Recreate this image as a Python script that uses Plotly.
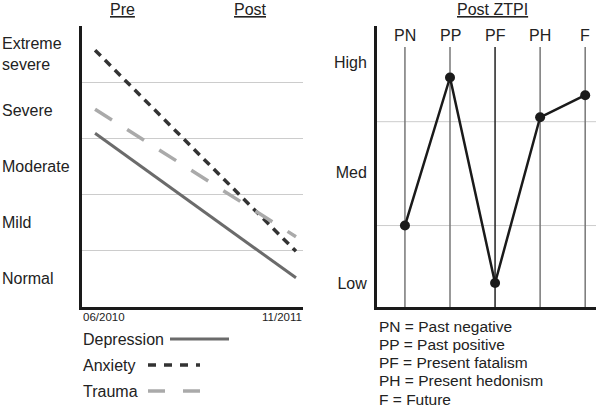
import plotly.graph_objects as go

# ---------- data ----------
time_labels = ["Pre", "Post"]
time_x = [0, 1]
date_labels = ["06/2010", "11/2011"]
severity_levels = ["Normal", "Mild", "Moderate", "Severe", "Extreme<br>severe"]
depression = [3.09, 0.52]
anxiety = [4.57, 0.99]
trauma = [3.52, 1.25]

ztpi_cats = ["PN", "PP", "PF", "PH", "F"]
ztpi_vals = [1.52, 2.86, 1.0, 2.50, 2.70]
ztpi_levels = ["Low", "Med", "High"]
ztpi_grid = [1.52, 2.46]
ztpi_defs = ["PN = Past negative", "PP = Past positive", "PF = Present fatalism",
             "PH = Present hedonism", "F = Future"]

W, H = 596, 408
FONT = "Liberation Sans, Arial, Helvetica, sans-serif"
TXT = "#222222"

def px(x):
    return x / W

def py(y):
    return 1 - y / H

fig = go.Figure()

# left panel lines
fig.add_trace(go.Scatter(x=time_x, y=depression, mode="lines",
                         line=dict(color="#6b6b6b", width=3), xaxis="x", yaxis="y",
                         showlegend=False, hoverinfo="skip"))
fig.add_trace(go.Scatter(x=time_x, y=anxiety, mode="lines",
                         line=dict(color="#333333", width=3.5, dash="8px,6px"), xaxis="x", yaxis="y",
                         showlegend=False, hoverinfo="skip"))
fig.add_trace(go.Scatter(x=time_x, y=trauma, mode="lines",
                         line=dict(color="#aaaaaa", width=3.5, dash="20px,18px"), xaxis="x", yaxis="y",
                         showlegend=False, hoverinfo="skip"))

# right panel
fig.add_trace(go.Scatter(x=ztpi_cats, y=ztpi_vals, mode="lines+markers",
                         line=dict(color="#1a1a1a", width=2.5),
                         marker=dict(color="#1a1a1a", size=10),
                         xaxis="x2", yaxis="y2", showlegend=False, hoverinfo="skip"))

ydom = [py(307), py(26)]
fig.update_layout(
    width=W, height=H, margin=dict(l=0, r=0, t=0, b=0),
    paper_bgcolor="white", plot_bgcolor="white",
    font=dict(family=FONT, color=TXT, size=16),
    xaxis=dict(domain=[px(82), px(303)], range=[-0.065, 1.035], showgrid=False,
               showticklabels=False, zeroline=False, showline=True,
               linecolor="#1a1a1a", linewidth=3, ticks=""),
    yaxis=dict(domain=ydom, range=[0, 5], tickvals=[1, 2, 3, 4, 5],
               showticklabels=False, showgrid=True, gridcolor="#cccccc", gridwidth=1,
               zeroline=False, showline=True, linecolor="#1a1a1a", linewidth=3, ticks=""),
    xaxis2=dict(domain=[px(377), 1.0], range=[-0.62, 4.24], type="category",
                categoryarray=ztpi_cats, showgrid=False, showticklabels=False,
                zeroline=False, showline=True, linecolor="#1a1a1a", linewidth=3, ticks=""),
    yaxis2=dict(domain=ydom, range=[0.783, 3.326], tickvals=[1, 2, 3], ticktext=ztpi_levels,
                showgrid=False, zeroline=False, showline=True, linecolor="#1a1a1a",
                linewidth=3, ticks="", ticklabelstandoff=4,
                tickfont=dict(size=16, color=TXT), anchor="x2"),
)
fig.update_layout(xaxis2_anchor="y2")

shapes = []
# right panel horizontal gridlines
for gv in ztpi_grid:
    shapes.append(dict(type="line", xref="paper", yref="y2", x0=px(377), x1=1.0,
                       y0=gv, y1=gv, line=dict(color="#cccccc", width=1), layer="below"))
# right panel vertical lines
for i, c in enumerate(ztpi_cats):
    col = "#222222" if c == "PF" else "#777777"
    shapes.append(dict(type="line", xref="x2", yref="paper", x0=c, x1=c,
                       y0=py(307), y1=py(47), line=dict(color=col, width=1.5), layer="below"))
# legend samples
shapes.append(dict(type="line", xref="paper", yref="paper", x0=px(170), x1=px(229),
                   y0=py(339), y1=py(339), line=dict(color="#6b6b6b", width=3)))
shapes.append(dict(type="line", xref="paper", yref="paper", x0=px(148), x1=px(200),
                   y0=py(365), y1=py(365), line=dict(color="#333333", width=3.5, dash="8px,8px")))
shapes.append(dict(type="line", xref="paper", yref="paper", x0=px(148), x1=px(200),
                   y0=py(391), y1=py(391), line=dict(color="#aaaaaa", width=3.5, dash="17px,18px")))
fig.update_layout(shapes=shapes)

ann = []
# top labels left
for lab, xc in zip(time_labels, [122, 251]):
    ann.append(dict(text=f"<u>{lab}</u>", xref="paper", yref="paper", x=px(xc), y=py(9),
                    showarrow=False, xanchor="center", yanchor="middle", font=dict(size=16)))
ann.append(dict(text="<u>Post ZTPI</u>", xref="paper", yref="paper", x=px(492), y=py(9),
                showarrow=False, xanchor="center", yanchor="middle", font=dict(size=16)))
# severity labels
for i, lab in enumerate(severity_levels):
    ann.append(dict(text=lab, xref="paper", yref="y", x=0, y=i + 0.5, showarrow=False,
                    xanchor="left", yanchor="middle", align="left", font=dict(size=16)))
# date labels
ann.append(dict(text=date_labels[0], xref="paper", yref="paper", x=px(81), y=py(317),
                showarrow=False, xanchor="left", yanchor="middle", font=dict(size=11.5)))
ann.append(dict(text=date_labels[1], xref="paper", yref="paper", x=px(304), y=py(317),
                showarrow=False, xanchor="right", yanchor="middle", font=dict(size=11.5)))
# legend labels
for lab, yc in zip(["Depression", "Anxiety", "Trauma"], [339, 365, 391]):
    ann.append(dict(text=lab, xref="paper", yref="paper", x=px(81), y=py(yc),
                    showarrow=False, xanchor="left", yanchor="middle", font=dict(size=16)))
# ztpi category labels
for c in ztpi_cats:
    ann.append(dict(text=c, xref="x2", yref="paper", x=c, y=py(35), showarrow=False,
                    xanchor="center", yanchor="middle", font=dict(size=16)))
# definitions
for j, d in enumerate(ztpi_defs):
    ann.append(dict(text=d, xref="paper", yref="paper", x=px(377), y=py(326 + j * 18.3),
                    showarrow=False, xanchor="left", yanchor="middle", font=dict(size=15.5)))
fig.update_layout(annotations=ann)

fig.write_html("out.html", config={"displayModeBar": False},
               post_script="document.body.style.margin='0';document.body.style.padding='0';"
                           "document.body.style.overflow='hidden';")
